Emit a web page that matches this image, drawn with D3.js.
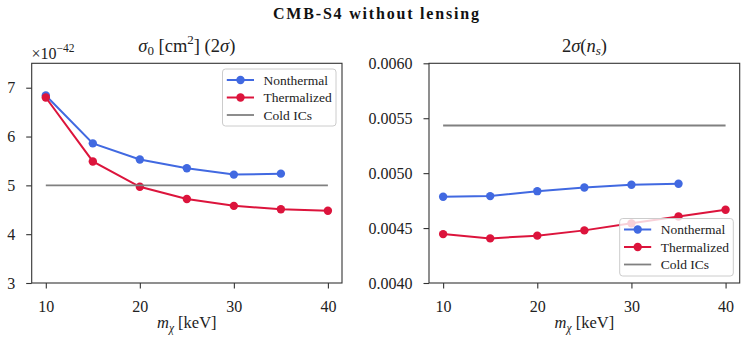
<!DOCTYPE html>
<html>
<head>
<meta charset="utf-8">
<script src="https://cdn.jsdelivr.net/npm/d3@7"></script>
<style>
  body { margin: 0; background: #fff; }
  svg { display: block; font-family: "Liberation Serif", "Times New Roman", Times, serif; }
</style>
</head>
<body>
<svg id="chart" width="747" height="343"></svg>
<script>
// ---------------- data ----------------
const masses = [10, 15, 20, 25, 30, 35, 40];            // m_chi [keV]
const sigmaNonthermal = [6.84, 5.86, 5.53, 5.35, 5.22, 5.24];          // x 1e-42 cm^2 (10..35)
const sigmaThermalized = [6.80, 5.49, 4.97, 4.72, 4.58, 4.51, 4.48];    // x 1e-42 cm^2 (10..40)
const sigmaCold = 5.0;
const nsNonthermal = [0.004785, 0.004791, 0.004836, 0.004870, 0.004895, 0.004904];
const nsThermalized = [0.004445, 0.004406, 0.004431, 0.004479, 0.004543, 0.004606, 0.004667];
const nsCold = 0.005434;
const xTicks = [10, 20, 30, 40];
const sigmaTicks = [3, 4, 5, 6, 7];
const nsTicks = [0.0040, 0.0045, 0.0050, 0.0055, 0.0060];
const legendNames = ["Nonthermal", "Thermalized", "Cold ICs"];
const colors = { nonthermal: "#4169E1", thermalized: "#DC143C", cold: "#808080" };

// ---------------- layout ----------------
const FONT = '"Liberation Serif", "Times New Roman", Times, serif';
const svg = d3.select("#chart");
const plotTop = 63.3, plotBottom = 283;
const panels = [
  { left: 31.7, right: 342, yDomain: [3, 7.5], ticks: sigmaTicks, fmt: d3.format("d"),
    nt: sigmaNonthermal, th: sigmaThermalized, cold: sigmaCold,
    legend: { x: 222.5, y: 69, w: 113.5, h: 57 } },
  { left: 429, right: 739.7, yDomain: [0.004, 0.006], ticks: nsTicks, fmt: d3.format(".4f"),
    nt: nsNonthermal, th: nsThermalized, cold: nsCold,
    legend: { x: 619.7, y: 218.5, w: 113.6, h: 57.5 } }
];
const textColor = "#222";
const spineColor = "#333";

panels.forEach((p, i) => {
  const x = d3.scaleLinear().domain([8.5, 41.5]).range([p.left, p.right]);
  const y = d3.scaleLinear().domain(p.yDomain).range([plotBottom, plotTop]);
  const g = svg.append("g");

  // axes
  const xa = g.append("g").attr("transform", `translate(0,${plotBottom})`)
    .call(d3.axisBottom(x).tickValues(xTicks).tickSize(5.5).tickPadding(12).tickSizeOuter(0));
  const ya = g.append("g").attr("transform", `translate(${p.left},0)`)
    .call(d3.axisLeft(y).tickValues(p.ticks).tickFormat(p.fmt).tickSize(5.5).tickPadding(11).tickSizeOuter(0));
  [xa, ya].forEach(a => {
    a.attr("font-family", FONT).attr("font-size", 16);
    a.select(".domain").remove();
    a.selectAll(".tick line").attr("stroke", spineColor).attr("stroke-width", 1.1);
    a.selectAll(".tick text").attr("fill", textColor);
  });

  // frame
  g.append("rect").attr("x", p.left).attr("y", plotTop)
    .attr("width", p.right - p.left).attr("height", plotBottom - plotTop)
    .attr("fill", "none").attr("stroke", spineColor).attr("stroke-width", 1.1);

  const line = d3.line().x((d, k) => x(masses[k])).y(d => y(d));

  // Nonthermal
  g.append("path").datum(p.nt).attr("d", line).attr("fill", "none")
    .attr("stroke", colors.nonthermal).attr("stroke-width", 2);
  g.selectAll(null).data(p.nt).enter().append("circle")
    .attr("cx", (d, k) => x(masses[k])).attr("cy", d => y(d)).attr("r", 4.2)
    .attr("fill", colors.nonthermal);
  // Thermalized
  g.append("path").datum(p.th).attr("d", line).attr("fill", "none")
    .attr("stroke", colors.thermalized).attr("stroke-width", 2);
  g.selectAll(null).data(p.th).enter().append("circle")
    .attr("cx", (d, k) => x(masses[k])).attr("cy", d => y(d)).attr("r", 4.2)
    .attr("fill", colors.thermalized);
  // Cold ICs
  g.append("line").attr("x1", x(masses[0])).attr("x2", x(masses[masses.length - 1]))
    .attr("y1", y(p.cold)).attr("y2", y(p.cold))
    .attr("stroke", colors.cold).attr("stroke-width", 1.8);

  // legend
  const L = p.legend;
  const lg = g.append("g");
  lg.append("rect").attr("x", L.x).attr("y", L.y).attr("width", L.w).attr("height", L.h)
    .attr("rx", 3).attr("fill", "#fff").attr("fill-opacity", 0.8)
    .attr("stroke", "#ccc").attr("stroke-width", 1);
  const lcolors = [colors.nonthermal, colors.thermalized, colors.cold];
  legendNames.forEach((name, k) => {
    const yy = L.y + 11 + k * 17.5;
    lg.append("line").attr("x1", L.x + 4.3).attr("x2", L.x + 31.5)
      .attr("y1", yy).attr("y2", yy).attr("stroke", lcolors[k]).attr("stroke-width", k < 2 ? 2 : 1.8);
    if (k < 2) lg.append("circle").attr("cx", L.x + 18).attr("cy", yy).attr("r", 4.2).attr("fill", lcolors[k]);
    lg.append("text").attr("x", L.x + 41).attr("y", yy + 4.6).attr("fill", textColor)
      .style("font-size", "13.5px").text(name);
  });
});

// subplot titles
const t1 = svg.append("text").attr("x", 186.8).attr("y", 51.5).attr("text-anchor", "middle")
  .attr("fill", textColor).style("font-size", "18.5px");
t1.append("tspan").attr("font-style", "italic").text("σ");
t1.append("tspan").style("font-size", "13px").attr("dy", 3).text("0");
t1.append("tspan").attr("dy", -3).text(" [cm");
t1.append("tspan").style("font-size", "13px").attr("dy", -7.5).text("2");
t1.append("tspan").attr("dy", 7.5).text("] (2");
t1.append("tspan").attr("font-style", "italic").text("σ");
t1.append("tspan").text(")");

const t2 = svg.append("text").attr("x", 584.5).attr("y", 51.5).attr("text-anchor", "middle")
  .attr("fill", textColor).style("font-size", "18.5px");
t2.append("tspan").text("2");
t2.append("tspan").attr("font-style", "italic").text("σ");
t2.append("tspan").text("(");
t2.append("tspan").attr("font-style", "italic").text("n");
t2.append("tspan").attr("font-style", "italic").style("font-size", "13px").attr("dy", 3).text("s");
t2.append("tspan").attr("dy", -3).text(")");

// offset text
const off = svg.append("text").attr("x", 31.5).attr("y", 58.5).attr("fill", textColor)
  .style("font-size", "16px");
off.append("tspan").text("×10");
off.append("tspan").style("font-size", "11.5px").attr("dy", -6.5).text("−42");

// x-axis labels
[186.8, 584.4].forEach(cx => {
  const t = svg.append("text").attr("x", cx).attr("y", 328).attr("text-anchor", "middle")
    .attr("fill", textColor).style("font-size", "16.5px");
  t.append("tspan").attr("font-style", "italic").text("m");
  t.append("tspan").attr("font-style", "italic").style("font-size", "11.5px").attr("dy", 3.5).text("χ");
  t.append("tspan").attr("dy", -3.5).text(" [keV]");
});

// suptitle
svg.append("text").attr("x", 376).attr("y", 18.5).attr("text-anchor", "middle")
  .attr("fill", "#111").style("font-size", "16px").style("font-weight", "bold")
  .attr("textLength", 206).attr("lengthAdjust", "spacing")
  .text("CMB-S4 without lensing");
</script>
</body>
</html>
